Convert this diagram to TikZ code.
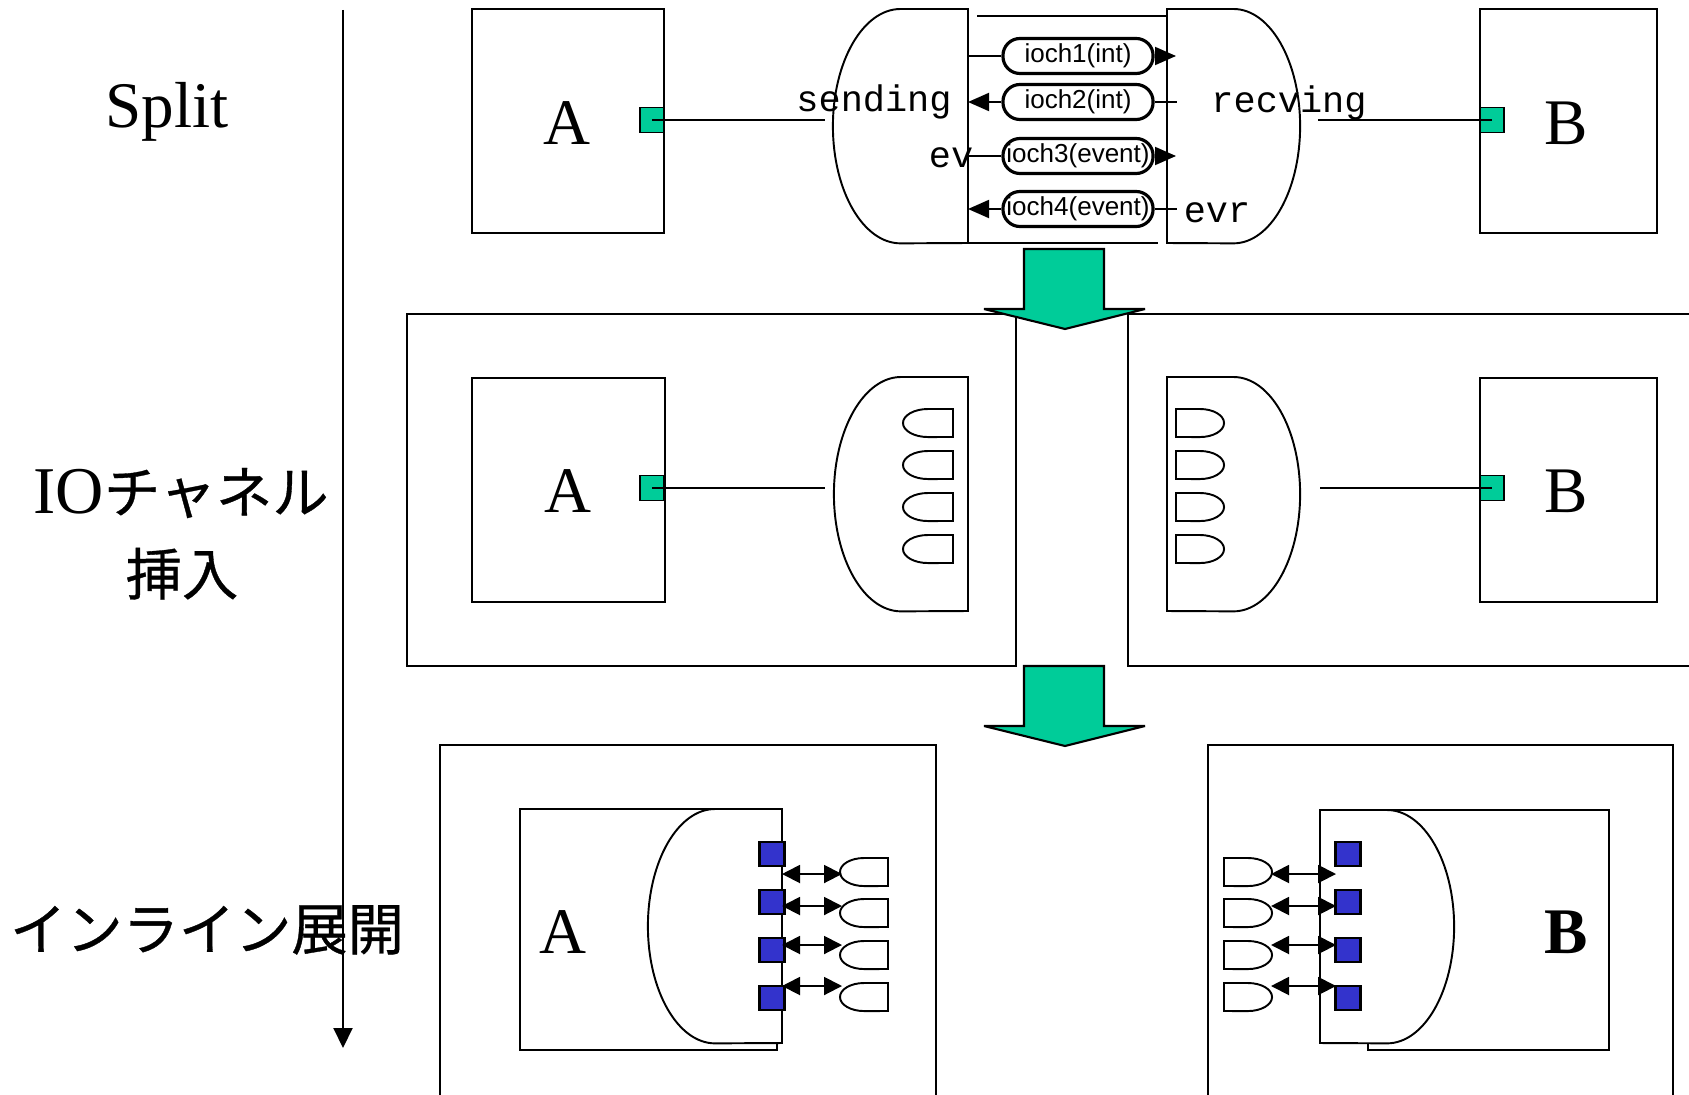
\documentclass[tikz,border=0pt]{standalone}
\usepackage{fontspec}
\setmainfont{Liberation Serif}
\setsansfont{Liberation Sans}
\setmonofont{Liberation Mono}
\newfontfamily\jpfont[FakeBold=0.6]{Noto Sans CJK JP}
\usepackage{xcolor}
\usetikzlibrary{arrows.meta}

\definecolor{portgreen}{RGB}{0,204,153}
\definecolor{stubblue}{RGB}{51,51,204}

% delay-like shapes: round side left / right (x, top, width, height in px)
\newcommand{\delayL}[4]{%
  \draw[dshape] (#1,#2) -- ({#1-#3/2},#2)
    arc[start angle=90, end angle=270, x radius={#3*0.005cm}, y radius={#4*0.005cm}]
    -- (#1,{#2+#4}) -- cycle;}
\newcommand{\delayR}[4]{%
  \draw[dshape] (#1,#2) -- ({#1+#3/2},#2)
    arc[start angle=90, end angle=-90, x radius={#3*0.005cm}, y radius={#4*0.005cm}]
    -- (#1,{#2+#4}) -- cycle;}

\begin{document}
\begin{tikzpicture}[x=0.01cm, y=-0.01cm, line width=0.55pt,
  box/.style={draw, line width=0.55pt},
  dshape/.style={draw, fill=white, line width=0.55pt},
  port/.style={draw, fill=portgreen, line width=0.55pt, minimum width=0.24cm, minimum height=0.25cm, inner sep=0pt},
  stub/.style={draw, fill=stubblue, line width=0.7pt, minimum width=0.25cm, minimum height=0.24cm, inner sep=0pt},
  ioch/.style={draw, line width=0.9pt, rounded corners=0.17cm, minimum width=1.5cm, minimum height=0.35cm, inner sep=0pt, font=\sffamily\fontsize{7.4}{8}\selectfont},
  lbl/.style={anchor=base, font=\ttfamily\fontsize{10.5}{12}\selectfont},
  big/.style={anchor=base, font=\fontsize{18.5}{22}\selectfont},
  oneway/.style={-{Triangle[length=0.21cm, width=0.18cm]}},
  twoway/.style={{Triangle[length=0.18cm, width=0.18cm]}-{Triangle[length=0.18cm, width=0.18cm]}}]
\useasboundingbox (0,0) rectangle (1689,1094);

% steps
\node[big] (split) at (167,128) {Split};
\node[anchor=base] (ioins) at (181,513) {{\fontsize{19}{22}\selectfont IO}{\jpfont\fontsize{16}{20}\selectfont チャネル}};
\node[anchor=base, font=\jpfont\fontsize{16}{20}\selectfont] (ins) at (182,595) {挿入};
\node[anchor=base, font=\jpfont\fontsize{16}{20}\selectfont] (inline) at (207,950) {インライン展開};
\coordinate (ttop) at (343,10);
\coordinate (tbot) at (343,1048);
\draw[-{Triangle[length=0.2cm, width=0.19cm]}] (ttop) -- (tbot);

% split
\draw[box] (472,9) rectangle (664,233);
\node[big] (a1) at (567,145) {A};
\node[port] (pa1) at (652,120) {};
\coordinate (send1) at (825,120);
\draw (pa1.center) -- (send1);

\delayL{968}{9}{135}{234}
\delayR{1167}{9}{133}{234}
\draw (977,16) -- (1167,16);
\draw (968,243) -- (1158,243);

\node[ioch] (ioch1) at (1078,56) {ioch1(int)};
\node[ioch] (ioch2) at (1078,102) {ioch2(int)};
\node[ioch] (ioch3) at (1078,156) {ioch3(event)};
\node[ioch] (ioch4) at (1078,209) {ioch4(event)};
\coordinate (s1) at (968,56);  \coordinate (r1) at (1176,56);
\coordinate (s2) at (968,102); \coordinate (r2) at (1177,102);
\coordinate (s3) at (968,156); \coordinate (r3) at (1176,156);
\coordinate (s4) at (968,209); \coordinate (r4) at (1177,209);
\draw (s1) -- (ioch1);
\draw[oneway] (ioch1) -- (r1);
\draw[oneway] (ioch2) -- (s2);
\draw (ioch2) -- (r2);
\draw (s3) -- (ioch3);
\draw[oneway] (ioch3) -- (r3);
\draw[oneway] (ioch4) -- (s4);
\draw (ioch4) -- (r4);

\node[lbl] (sending) at (874,112) {sending};
\node[lbl] (recving) at (1289,113) {recving};
\node[lbl] (ev) at (951,167) {ev};
\node[lbl] (evr) at (1217,222) {evr};

\draw[box] (1480,9) rectangle (1657,233);
\node[big] (b1) at (1566,145) {B};
\node[port] (pb1) at (1492,120) {};
\coordinate (recv1) at (1318,120);
\draw (recv1) -- (pb1.center);

% IO channel insertion
\draw[box] (407,314) rectangle (1016,666);
\draw[box] (1128,314) rectangle (1700,666);
\draw[box] (472,378) rectangle (665,602);
\node[big] (a2) at (568,512) {A};
\node[port] (pa2) at (652,488) {};
\coordinate (send2) at (825,488);
\draw (pa2.center) -- (send2);
\delayL{968}{377}{134}{234}
\foreach \t in {409,451,493,535} {\delayL{953}{\t}{50}{28}}

\delayR{1167}{377}{133}{234}
\foreach \t in {409,451,493,535} {\delayR{1176}{\t}{48}{28}}
\draw[box] (1480,378) rectangle (1657,602);
\node[big] (b2) at (1566,512) {B};
\node[port] (pb2) at (1492,488) {};
\coordinate (recv2) at (1320,488);
\draw (recv2) -- (pb2.center);

% inline expansion
\draw[box] (440,745) rectangle (936,1100);
\draw[box] (1208,745) rectangle (1673,1100);

\draw[box] (520,809) rectangle (777,1050);
\delayL{782}{809}{134}{234}
\node[big] (a3) at (563,953) {A};
\foreach \t [count=\i] in {854,902,950,998} \node[stub] (stubA\i) at (772,\t) {};
\foreach \t in {858,899,941,983} {\delayL{888}{\t}{48}{28}}
\foreach \y [count=\i] in {874,906,945,986} {
  \coordinate (inA\i) at (782,\y);
  \coordinate (chA\i) at (842,\y);
  \draw[twoway] (inA\i) -- (chA\i);
}

\draw[box] (1368,810) rectangle (1609,1050);
\delayR{1320}{810}{134}{233}
\node[big] (b3) at (1566,953) {\bfseries B};
\foreach \t [count=\i] in {854,902,950,998} \node[stub] (stubB\i) at (1348,\t) {};
\foreach \t in {858,899,941,983} {\delayR{1224}{\t}{48}{28}}
\foreach \y [count=\i] in {874,906,945,986} {
  \coordinate (chB\i) at (1271,\y);
  \coordinate (inB\i) at (1336,\y);
  \draw[twoway] (chB\i) -- (inB\i);
}

% transformation arrows
\foreach \t in {249,666}
  \draw[fill=portgreen, line width=0.6pt, miter limit=2] (1024,\t) -- (1104,\t) -- (1104,{\t+60}) -- (1145,{\t+60})
    -- (1065,{\t+80}) -- (984,{\t+60}) -- (1024,{\t+60}) -- cycle;
\end{tikzpicture}
\end{document}
